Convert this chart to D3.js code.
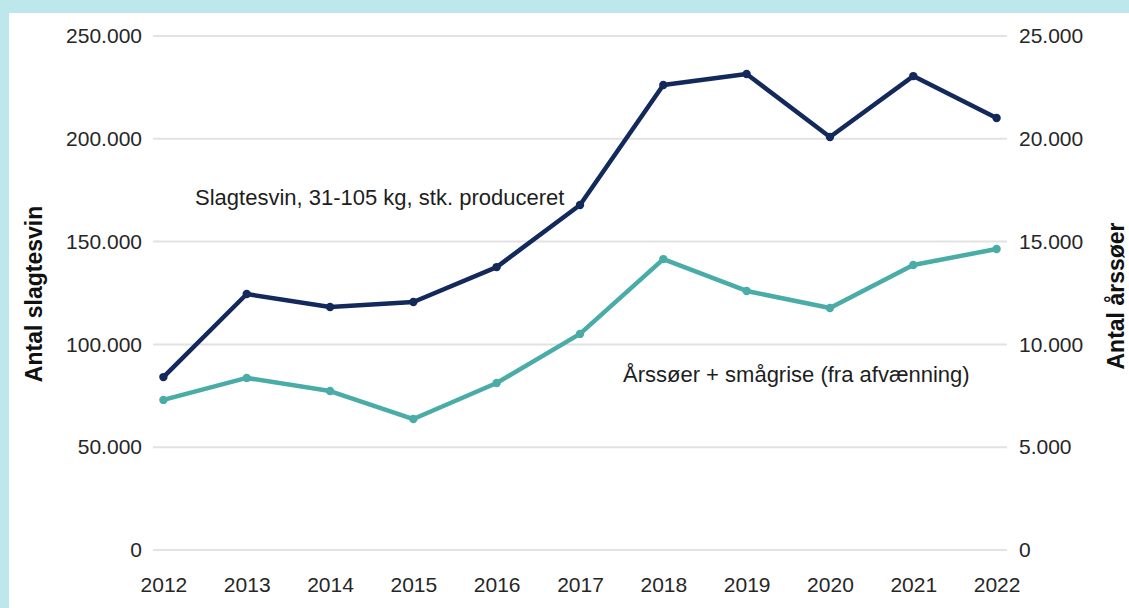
<!DOCTYPE html>
<html>
<head>
<meta charset="utf-8">
<script src="https://cdn.jsdelivr.net/npm/d3@7"></script>
<style>
  body { margin: 0; background: #bee7ec; }
  svg { display: block; font-family: "Liberation Sans", Arial, sans-serif; }
  .tick text { fill: #262626; font-size: 21px; }
  .axis-title { font-weight: bold; font-size: 23px; fill: #111; }
  .label { font-size: 22px; fill: #1e1e1e; }
</style>
</head>
<body>
<div id="chart"></div>
<script>
// years on the x axis
const years = ["2012", "2013", "2014", "2015", "2016", "2017", "2018", "2019", "2020", "2021", "2022"];
// left axis: slaughter pigs produced
const slagtesvin = [84100, 124500, 118200, 120600, 137600, 167800, 226200, 231500, 200900, 230500, 210100];
// right axis: sows + piglets
const aarssoer = [7300, 8370, 7730, 6370, 8120, 10510, 14150, 12600, 11770, 13860, 14640];
const leftTicks = [0, 50000, 100000, 150000, 200000, 250000];
const rightTicks = [0, 5000, 10000, 15000, 20000, 25000];

const W = 1129, H = 608;
const margin = { top: 36, right: 122, bottom: 58, left: 153 };
const width = W - margin.left - margin.right,
  height = H - margin.top - margin.bottom;

const fmt = (v) => d3.format(",")(v).replace(/,/g, ".");

const svg = d3.select("#chart").append("svg")
  .attr("width", W).attr("height", H);

// white panel, light blue frame shows on left/top
svg.append("rect")
  .attr("x", 9).attr("y", 13)
  .attr("width", W - 9).attr("height", H - 13)
  .attr("fill", "#fff");

const g = svg.append("g").attr("transform", `translate(${margin.left}, ${margin.top})`);

const x = d3.scalePoint().domain(years).range([0, width]).padding(0.125);
const yL = d3.scaleLinear().domain([0, 250000]).range([height, 0]);
const yR = d3.scaleLinear().domain([0, 25000]).range([height, 0]);

// gridlines
g.append("g")
  .selectAll("line")
  .data(leftTicks)
  .join("line")
  .attr("x1", 0).attr("x2", width)
  .attr("y1", (d) => yL(d)).attr("y2", (d) => yL(d))
  .attr("stroke", "#e2e2e2")
  .attr("stroke-width", 2);

// left axis
g.append("g")
  .call(d3.axisLeft(yL).tickValues(leftTicks).tickFormat(fmt).tickSize(0).tickPadding(11))
  .call((a) => a.select(".domain").remove());

// right axis
g.append("g")
  .attr("transform", `translate(${width}, 0)`)
  .call(d3.axisRight(yR).tickValues(rightTicks).tickFormat(fmt).tickSize(0).tickPadding(12))
  .call((a) => a.select(".domain").remove());

// x axis
g.append("g")
  .attr("transform", `translate(0, ${height})`)
  .call(d3.axisBottom(x).tickSize(0).tickPadding(27))
  .call((a) => a.select(".domain").remove());

g.selectAll(".tick text").attr("font-family", null).attr("font-size", null);

// axis titles
svg.append("text")
  .attr("class", "axis-title")
  .attr("transform", `translate(42, 294) rotate(-90)`)
  .attr("text-anchor", "middle")
  .text("Antal slagtesvin");

svg.append("text")
  .attr("class", "axis-title")
  .attr("transform", `translate(1124, 296) rotate(-90)`)
  .attr("text-anchor", "middle")
  .text("Antal årssøer");

function drawSeries(values, y, color) {
  const line = d3.line()
    .x((d, i) => x(years[i]))
    .y((d) => y(d));
  g.append("path")
    .datum(values)
    .attr("fill", "none")
    .attr("stroke", color)
    .attr("stroke-width", 4.5)
    .attr("stroke-linejoin", "round")
    .attr("d", line);
  g.append("g")
    .selectAll("circle")
    .data(values)
    .join("circle")
    .attr("cx", (d, i) => x(years[i]))
    .attr("cy", (d) => y(d))
    .attr("r", 4.2)
    .attr("fill", color);
}

drawSeries(aarssoer, yR, "#4aaca6");
drawSeries(slagtesvin, yL, "#13295c");

// series labels
svg.append("text")
  .attr("class", "label")
  .attr("x", 195).attr("y", 205)
  .text("Slagtesvin, 31-105 kg, stk. produceret");

svg.append("text")
  .attr("class", "label")
  .attr("x", 623).attr("y", 382)
  .text("Årssøer + smågrise (fra afvænning)");
</script>
</body>
</html>
